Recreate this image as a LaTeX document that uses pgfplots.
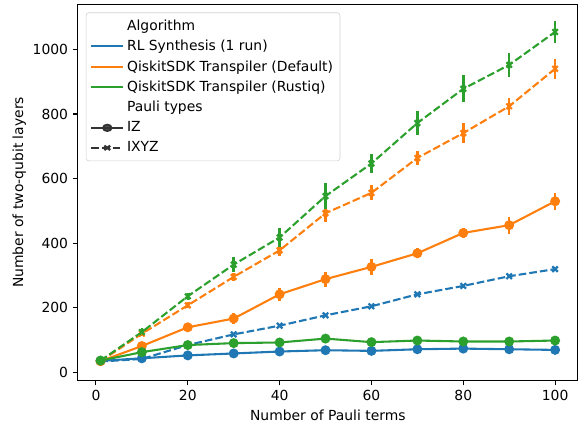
\documentclass[border=0pt]{standalone}
\usepackage{fontspec}
\setmainfont{DejaVu Sans}
\usepackage{pgfplots}
\pgfplotsset{compat=1.18}
\definecolor{tabblue}{HTML}{1F77B4}
\definecolor{taborange}{HTML}{FF7F0E}
\definecolor{tabgreen}{HTML}{2CA02C}
\definecolor{legdark}{HTML}{333333}

\pgfplotsset{
  izline/.style={solid, line width=1.5pt, mark=*, mark size=2.8pt,
    mark options={solid, draw=white, line width=0.5pt}},
  xyzline/.style={dash pattern=on 5.5pt off 2.2pt, line width=1.5pt, mark=x,
    mark size=2.8pt, mark options={solid, line width=1.6pt}},
  ebar/.style={error bars/y dir=both, error bars/y explicit, error bars/error mark=none,
    error bars/error bar style={line width=1.8pt, solid, #1}},
}

\begin{document}
\begin{tikzpicture}
\begin{axis}[
  width=360pt, height=271pt, scale only axis,
  xmin=-3.95, xmax=104.95, ymin=-25, ymax=1140,
  xtick={0,20,...,100}, ytick={0,200,...,1000},
  tick align=outside, tick pos=left, major tick length=3.5pt,
  every tick/.style={black, line width=0.8pt},
  axis line style={line width=0.8pt},
  xlabel={Number of Pauli terms},
  ylabel={Number of two-qubit layers},
  ylabel shift=-2pt,
  tick label style={font=\fontsize{10}{12}\selectfont},
  label style={font=\fontsize{10}{12}\selectfont},
  /pgf/number format/assume math mode=true,
  /pgf/number format/1000 sep={},
  scaled y ticks=false,
  legend image post style={xscale=1.35},
  legend style={at={(rel axis cs:0.016,0.978)}, anchor=north west,
    draw=black!18, rounded corners=2pt, fill=white, fill opacity=0.8,
    text opacity=1, font=\fontsize{10}{12}\selectfont,
    cells={anchor=west}, row sep=1.6pt, inner sep=3pt},
]
% RL Synthesis, IZ
\addplot[forget plot, tabblue, izline, mark options={fill=tabblue}, ebar={tabblue}]
  coordinates {(1,36) +- (0,3) (10,44) +- (0,4) (20,53) +- (0,4) (30,59) +- (0,4)
  (40,65) +- (0,4) (50,69) +- (0,4) (60,67) +- (0,4) (70,72) +- (0,4)
  (80,74) +- (0,4) (90,72) +- (0,4) (100,70) +- (0,4)};
% RL Synthesis, IXYZ
\addplot[forget plot, tabblue, xyzline, ebar={tabblue}]
  coordinates {(1,34) +- (0,3) (10,42) +- (0,4) (20,85) +- (0,4) (30,118) +- (0,5)
  (40,145) +- (0,5) (50,177) +- (0,5) (60,205) +- (0,5) (70,242) +- (0,5)
  (80,268) +- (0,5) (90,298) +- (0,5) (100,320) +- (0,5)};
% Default, IZ
\addplot[forget plot, taborange, izline, mark options={fill=taborange}, ebar={taborange}]
  coordinates {(1,35) +- (0,3) (10,82) +- (0,5) (20,140) +- (0,13) (30,167) +- (0,16)
  (40,242) +- (0,21) (50,289) +- (0,23) (60,327) +- (0,24) (70,369) +- (0,16)
  (80,432) +- (0,16) (90,456) +- (0,26) (100,530) +- (0,26)};
% Default, IXYZ
\addplot[forget plot, taborange, xyzline, ebar={taborange}]
  coordinates {(1,35) +- (0,3) (10,120) +- (0,6) (20,208) +- (0,9) (30,296) +- (0,13)
  (40,378) +- (0,18) (50,493) +- (0,26) (60,556) +- (0,23) (70,664) +- (0,22)
  (80,741) +- (0,30) (90,824) +- (0,27) (100,940) +- (0,31)};
% Rustiq, IZ
\addplot[forget plot, tabgreen, izline, mark options={fill=tabgreen}, ebar={tabgreen}]
  coordinates {(1,37) +- (0,3) (10,63) +- (0,4) (20,85) +- (0,4) (30,91) +- (0,4)
  (40,93) +- (0,4) (50,105) +- (0,5) (60,94) +- (0,4) (70,99) +- (0,4)
  (80,96) +- (0,4) (90,96) +- (0,4) (100,99) +- (0,5)};
% Rustiq, IXYZ
\addplot[forget plot, tabgreen, xyzline, ebar={tabgreen}]
  coordinates {(1,37) +- (0,3) (10,125) +- (0,12) (20,236) +- (0,11) (30,334) +- (0,22)
  (40,418) +- (0,29) (50,546) +- (0,39) (60,647) +- (0,28) (70,772) +- (0,36)
  (80,878) +- (0,42) (90,952) +- (0,36) (100,1054) +- (0,33)};

\addlegendimage{draw opacity=0, mark=none}\addlegendentry{Algorithm}
\addlegendimage{tabblue, line width=1.5pt}\addlegendentry{RL Synthesis (1 run)}
\addlegendimage{taborange, line width=1.5pt}\addlegendentry{QiskitSDK Transpiler (Default)}
\addlegendimage{tabgreen, line width=1.5pt}\addlegendentry{QiskitSDK Transpiler (Rustiq)}
\addlegendimage{draw opacity=0, mark=none}\addlegendentry{Pauli types}
\addlegendimage{legdark, izline, mark size=2.2pt, mark options={fill=legdark}}\addlegendentry{IZ}
\addlegendimage{legdark, xyzline, mark size=2.2pt}\addlegendentry{IXYZ}
\end{axis}
\path (current axis.south west) ++(-56pt,-32pt) coordinate (bbsw);
\path (current axis.north east) ++(3pt,3pt) coordinate (bbne);
\path (bbsw) rectangle (bbne);
\end{tikzpicture}
\end{document}
